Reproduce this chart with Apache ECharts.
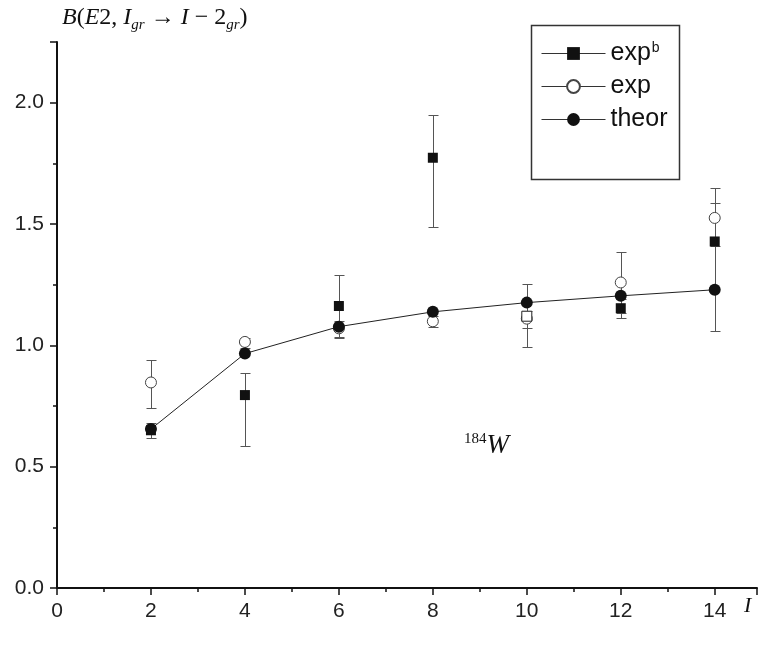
<!DOCTYPE html>
<html>
<head>
<meta charset="utf-8">
<title>B(E2) 184W</title>
<script src="https://cdn.jsdelivr.net/npm/echarts@6/dist/echarts.min.js"></script>
<style>
html,body{margin:0;padding:0;background:#fff;}
#container{width:761px;height:649px;}
</style>
</head>
<body>
<div id="container"></div>
<script>
// spin I values
var iValues = [2, 4, 6, 8, 10, 12, 14];
// exp^b: filled squares + error limits
var expbValues = [0.65, 0.795, 1.162, 1.773, 1.12, 1.153, 1.428];
var expbLow = [0.62, 0.584, 1.035, 1.489, 0.995, 1.114, 1.061];
var expbHigh = [0.68, 0.887, 1.289, 1.95, 1.252, 1.19, 1.587];
// exp: open circles + error limits
var expValues = [0.847, 1.014, 1.07, 1.099, 1.11, 1.259, 1.525];
var expLow = [0.742, 0.99, 1.03, 1.077, 1.073, 1.135, 1.41];
var expHigh = [0.939, 1.032, 1.10, 1.12, 1.142, 1.383, 1.647];
// theory curve
var theorValues = [0.655, 0.966, 1.077, 1.138, 1.176, 1.204, 1.229];
// axis ticks
var xTicks = [0, 2, 4, 6, 8, 10, 12, 14];
var yTicks = [0.0, 0.5, 1.0, 1.5, 2.0];

var serif = "'Liberation Serif','Times New Roman',serif";
var sans = "'Liberation Sans',Arial,sans-serif";

function pairs(xs, ys) {
    var out = [];
    for (var k = 0; k < xs.length; k++) out.push([xs[k], ys[k]]);
    return out;
}
function triples(xs, lo, hi) {
    var out = [];
    for (var k = 0; k < xs.length; k++) out.push([xs[k], lo[k], hi[k]]);
    return out;
}
//误差线
function renderErr(params, api) {
    var x = api.value(0);
    var pLo = api.coord([x, api.value(1)]);
    var pHi = api.coord([x, api.value(2)]);
    var cx = Math.round(pLo[0]) + 0.5;
    var yl = Math.round(pLo[1]) + 0.5, yh = Math.round(pHi[1]) + 0.5;
    var w = 5;
    var st = {stroke: '#555', lineWidth: 1};
    return {
        type: 'group',
        children: [
            {type: 'line', shape: {x1: cx, y1: yl, x2: cx, y2: yh}, style: st},
            {type: 'line', shape: {x1: cx - w, y1: yl, x2: cx + w, y2: yl}, style: st},
            {type: 'line', shape: {x1: cx - w, y1: yh, x2: cx + w, y2: yh}, style: st}
        ]
    };
}

var expbData = pairs(iValues, expbValues);
// the point at I=10 is drawn hollow in the figure
expbData[4] = {value: expbData[4], itemStyle: {color: '#fff', borderColor: '#222', borderWidth: 1}};

var myChart = echarts.init(document.getElementById('container'), null, {renderer: 'canvas'});
var axisCommon = {
    type: 'value',
    axisLine: {show: true, onZero: false, lineStyle: {color: '#111', width: 2}},
    axisTick: {show: true, inside: false, length: 7, lineStyle: {color: '#111', width: 1.5}},
    minorTick: {show: true, splitNumber: 2, length: 4, lineStyle: {color: '#111', width: 1.5}},
    splitLine: {show: false},
    minorSplitLine: {show: false}
};
var option = {
    animation: false,
    backgroundColor: '#fff',
    grid: {left: 57, right: 4, top: 42, bottom: 61, outerBoundsMode: 'none', containLabel: false},
    xAxis: echarts.util.merge({
        min: xTicks[0],
        max: 14.9,
        interval: 2,
        axisLabel: {
            show: true, showMaxLabel: false, margin: 13, fontSize: 21, color: '#222', fontFamily: sans,
            formatter: function (v) { return xTicks.indexOf(v) >= 0 ? String(v) : ''; }
        }
    }, axisCommon, true),
    yAxis: echarts.util.merge({
        min: yTicks[0],
        max: 2.25,
        interval: 0.5,
        axisLabel: {
            show: true, showMaxLabel: false, margin: 13, fontSize: 21, color: '#222', fontFamily: sans,
            formatter: function (v) { return yTicks.indexOf(v) >= 0 ? v.toFixed(1) : ''; }
        }
    }, axisCommon, true),
    legend: {
        show: true,
        orient: 'vertical',
        left: 541,
        top: 41,
        padding: 0,
        itemGap: 8,
        itemWidth: 64,
        itemHeight: 16,
        selectedMode: false,
        data: [
            {name: 'exp^b', lineStyle: {color: '#333', width: 1, opacity: 1}},
            {name: 'exp', lineStyle: {color: '#333', width: 1, opacity: 1}},
            {name: 'theor', lineStyle: {color: '#333', width: 1, opacity: 1}}
        ],
        formatter: function (name) {
            return name === 'exp^b' ? '{n|exp}{s|b}' : '{n|' + name + '}';
        },
        textStyle: {
            fontSize: 25, color: '#111', fontFamily: sans, lineHeight: 25,
            rich: {
                n: {fontSize: 25, color: '#111', fontFamily: sans, lineHeight: 25},
                s: {fontSize: 14, color: '#111', fontFamily: sans, lineHeight: 14, verticalAlign: 'top', padding: [0, 0, 8, 1]}
            }
        }
    },
    graphic: [
        {
            type: 'rect', left: 529, top: 23, z: 0,
            shape: {width: 148, height: 154},
            style: {fill: 'none', stroke: '#333', lineWidth: 1.5}
        },
        {
            type: 'text', left: 62, top: 6,
            style: {
                text: '{i|B}{r|(}{i|E}{r|2, }{i|I}{s|gr}{r| → }{i|I}{r| − 2}{s|gr}{r|)}',
                fill: '#111',
                rich: {
                    i: {fontSize: 24, fontStyle: 'italic', fontFamily: serif, lineHeight: 30, fill: '#111'},
                    r: {fontSize: 24, fontFamily: serif, lineHeight: 30, fill: '#111'},
                    s: {fontSize: 15, fontStyle: 'italic', fontFamily: serif, lineHeight: 15, verticalAlign: 'bottom', fill: '#111'}
                }
            }
        },
        {
            type: 'text', left: 744, top: 595,
            style: {text: 'I', font: 'italic 22px ' + serif, fill: '#111'}
        },
        {
            type: 'text', left: 464, top: 432,
            style: {
                text: '{s|184}{w|W}',
                fill: '#111',
                rich: {
                    s: {fontSize: 15, fontFamily: serif, lineHeight: 15, verticalAlign: 'top', fill: '#111'},
                    w: {fontSize: 27, fontStyle: 'italic', fontFamily: serif, lineHeight: 28, fill: '#111'}
                }
            }
        }
    ],
    series: [
        {
            type: 'custom', name: 'err_b', z: 1, silent: true,
            renderItem: renderErr,
            encode: {x: 0, y: [1, 2]},
            data: triples(iValues, expbLow, expbHigh)
        },
        {
            type: 'custom', name: 'err_e', z: 1, silent: true,
            renderItem: renderErr,
            encode: {x: 0, y: [1, 2]},
            data: triples(iValues, expLow, expHigh)
        },
        {
            name: 'exp', type: 'line', z: 2,
            symbol: 'circle', symbolSize: 11, showSymbol: true,
            lineStyle: {opacity: 0, width: 0},
            itemStyle: {color: '#fff', borderColor: '#444', borderWidth: 1},
            data: pairs(iValues, expValues)
        },
        {
            name: 'theor', type: 'line', z: 3,
            symbol: 'circle', symbolSize: 12, showSymbol: true,
            lineStyle: {color: '#222', width: 1},
            itemStyle: {color: '#111', borderColor: '#111', borderWidth: 0},
            data: pairs(iValues, theorValues)
        },
        {
            name: 'exp^b', type: 'line', z: 4,
            symbol: 'rect', symbolSize: 10, showSymbol: true,
            lineStyle: {opacity: 0, width: 0},
            itemStyle: {color: '#111', borderWidth: 0},
            data: expbData
        }
    ]
};
myChart.setOption(option, true);
</script>
</body>
</html>
